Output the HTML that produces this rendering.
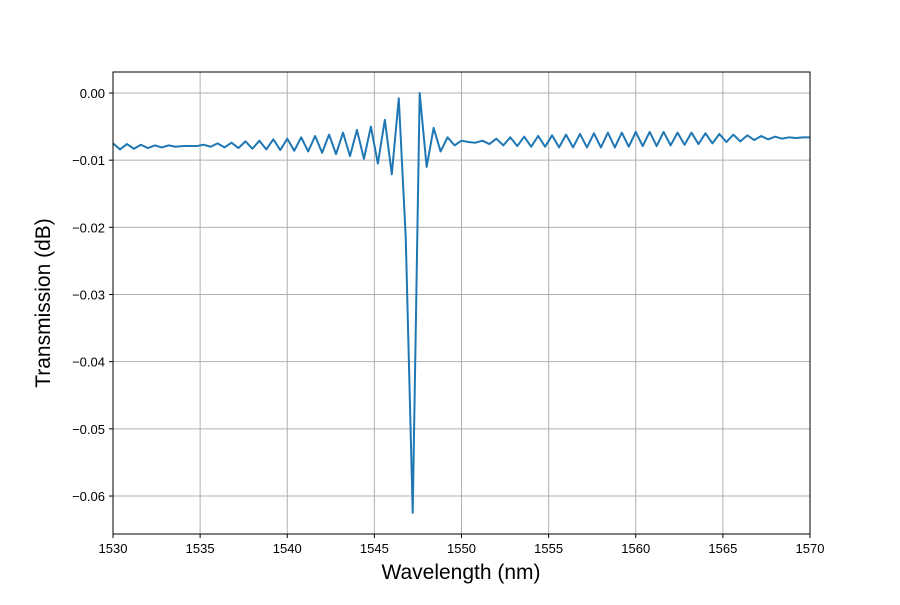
<!DOCTYPE html>
<html><head><meta charset="utf-8"><style>
body{margin:0;background:#fff}
svg text{font-family:"Liberation Sans","DejaVu Sans",sans-serif;fill:#000}
</style></head><body>
<svg id="chart" width="900" height="600" xmlns="http://www.w3.org/2000/svg">
<rect width="900" height="600" fill="#fff"/>
<g id="grid"></g>
<g id="axes"></g>
<path id="line" fill="none" stroke="#1f77b4" stroke-width="2" stroke-linejoin="round"/>
<rect x="113" y="72" width="697" height="462" fill="none" stroke="#000" stroke-width="1"/>
<text x="461" y="579" font-size="21" text-anchor="middle">Wavelength (nm)</text>
<text transform="translate(50,303) rotate(-90)" font-size="21" text-anchor="middle">Transmission (dB)</text>
</svg>
<script>
const xStart = 1530;
const xStep = 0.4;
const transmission = [-0.0075,-0.0084,-0.0076,-0.0083,-0.0077,-0.0082,-0.0078,-0.0081,-0.0078,-0.0080,
-0.0079,-0.0079,-0.0079,-0.0077,-0.0080,-0.0075,-0.0081,-0.0074,-0.0082,-0.0072,
-0.0083,-0.0071,-0.0084,-0.0069,-0.0085,-0.0068,-0.0086,-0.0066,-0.0087,-0.0064,
-0.0089,-0.0062,-0.0091,-0.0059,-0.0094,-0.0055,-0.0098,-0.0050,-0.0105,-0.0040,
-0.0121,-0.0008,-0.0215,-0.0625,0.0000,-0.0110,-0.0052,-0.0087,-0.0066,-0.0078,
-0.0071,-0.0073,-0.0074,-0.0071,-0.0076,-0.0068,-0.0078,-0.0066,-0.0079,-0.0065,
-0.0080,-0.0064,-0.0080,-0.0063,-0.0081,-0.0062,-0.0081,-0.0061,-0.0081,-0.0060,
-0.0081,-0.0059,-0.0081,-0.0059,-0.0080,-0.0058,-0.0079,-0.0058,-0.0079,-0.0058,
-0.0078,-0.0059,-0.0077,-0.0059,-0.0076,-0.0060,-0.0075,-0.0061,-0.0073,-0.0062,
-0.0072,-0.0063,-0.0070,-0.0064,-0.0069,-0.0065,-0.0068,-0.0066,-0.0067,-0.0066,-0.0066];
const xTicks = [1530,1535,1540,1545,1550,1555,1560,1565,1570];
const yTicks = [0,-0.01,-0.02,-0.03,-0.04,-0.05,-0.06];
const yTickLabels = ["0.00","\u22120.01","\u22120.02","\u22120.03","\u22120.04","\u22120.05","\u22120.06"];

const X0=113,X1=810,Y0=72,Y1=534;
const xMin=1530,xMax=1570,yTop=0.003126,yBot=-0.065654;
const xs=v=>X0+(v-xMin)/(xMax-xMin)*(X1-X0);
const ys=v=>Y0+(yTop-v)/(yTop-yBot)*(Y1-Y0);
const NS="http://www.w3.org/2000/svg";
const grid=document.getElementById('grid'), axes=document.getElementById('axes');
function mk(tag,attrs,parent){const e=document.createElementNS(NS,tag);for(const k in attrs)e.setAttribute(k,attrs[k]);parent.appendChild(e);return e;}
xTicks.forEach(t=>{
  const x=xs(t);
  const g=mk('line',{x1:x,x2:x,y1:Y0,y2:Y1,stroke:'#b0b0b0','stroke-width':1},grid);
  
  
  const tk=mk('line',{x1:x,x2:x,y1:Y1,y2:Y1+4,stroke:'#000'},axes);
  
  
  const tx=mk('text',{x:x,y:Y1+19,'font-size':13,'text-anchor':'middle'},axes);
  tx.textContent=t;
  
  
});
yTicks.forEach((t,i)=>{
  const y=ys(t);
  const g=mk('line',{x1:X0,x2:X1,y1:y,y2:y,stroke:'#b0b0b0','stroke-width':1},grid);
  
  
  const tk=mk('line',{x1:X0-4,x2:X0,y1:y,y2:y,stroke:'#000'},axes);
  
  
  const tx=mk('text',{x:X0-8,y:y+5,'font-size':13,'text-anchor':'end'},axes);
  tx.textContent=yTickLabels[i];
  
  
});
document.getElementById('line').setAttribute('d',transmission.map((v,i)=>(i?'L':'M')+xs(xStart+i*xStep).toFixed(2)+','+ys(v).toFixed(2)).join(''));
</script>
</body></html>
